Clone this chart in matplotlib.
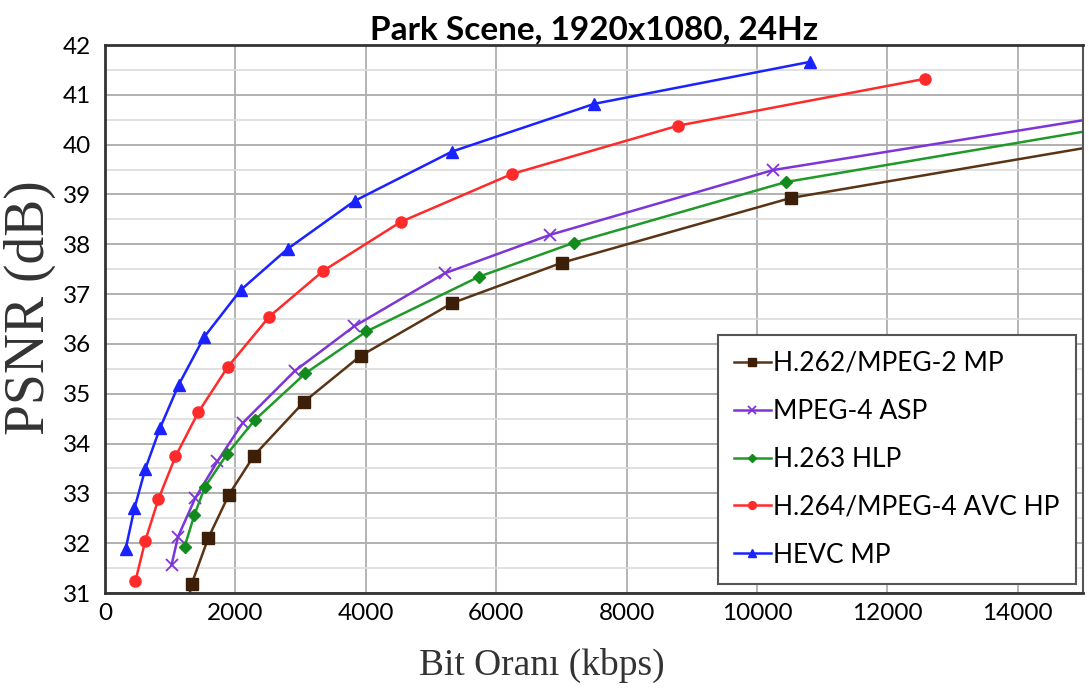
import numpy as np
import matplotlib
matplotlib.use("Agg")
import matplotlib.pyplot as plt
from matplotlib.ticker import MultipleLocator

# values (bit rate in kbps, PSNR in dB)
mpeg2_rate = [1250, 1331, 1583, 1899, 2286, 3055, 3919, 5325, 7009, 10520, 16000]
mpeg2_psnr = [30.7, 31.19, 32.10, 32.97, 33.76, 34.84, 35.76, 36.82, 37.63, 38.93, 40.15]

mpeg4_rate = [1020, 1120, 1382, 1723, 2110, 2913, 3818, 5215, 6828, 10248, 16000]
mpeg4_psnr = [31.56, 32.13, 32.90, 33.64, 34.41, 35.46, 36.35, 37.42, 38.19, 39.49, 40.70]

h263_rate = [1221, 1372, 1533, 1873, 2295, 3074, 4009, 5738, 7190, 10445, 16000]
h263_psnr = [31.93, 32.57, 33.13, 33.79, 34.47, 35.41, 36.25, 37.35, 38.03, 39.25, 40.48]

h264_rate = [467, 618, 818, 1081, 1432, 1884, 2522, 3351, 4537, 6240, 8787, 12570]
h264_psnr = [31.24, 32.05, 32.88, 33.74, 34.63, 35.54, 36.55, 37.47, 38.45, 39.41, 40.38, 41.32]

hevc_rate = [316, 452, 618, 844, 1130, 1522, 2080, 2803, 3828, 5320, 7506, 10806]
hevc_psnr = [31.88, 32.70, 33.49, 34.31, 35.18, 36.14, 37.08, 37.91, 38.87, 39.86, 40.82, 41.66]

labels = ["H.262/MPEG-2 MP", "MPEG-4 ASP", "H.263 HLP",
          "H.264/MPEG-4 AVC HP", "HEVC MP"]

fig = plt.figure(figsize=(10.89, 6.91), dpi=100)
ax = fig.add_axes([105 / 1089, 1 - 593 / 691, 978 / 1089, 548 / 691])

sans = ["Lato", "DejaVu Sans"]
serif = ["Liberation Serif", "DejaVu Serif"]

# draw the five curves
ax.plot(mpeg2_rate, mpeg2_psnr, color="#5a3414", lw=1.8, marker="s", ms=8,
        mfc="#3d1f08", mec="#3d1f08", label=labels[0])
ax.plot(mpeg4_rate, mpeg4_psnr, color="#7d35d8", lw=1.8, marker="x", ms=9,
        mew=1.3, label=labels[1])
ax.plot(h263_rate, h263_psnr, color="#1f9a2a", lw=1.8, marker="D", ms=6.5,
        mfc="#138a1e", mec="#138a1e", label=labels[2])
ax.plot(h264_rate, h264_psnr, color="#ff2a2a", lw=1.8, marker="o", ms=8,
        label=labels[3])
ax.plot(hevc_rate, hevc_psnr, color="#1a22ff", lw=1.8, marker="^", ms=9,
        label=labels[4])

ax.set_xlim(0, 15000)
ax.set_ylim(31, 42)
ax.xaxis.set_major_locator(MultipleLocator(2000))
ax.yaxis.set_major_locator(MultipleLocator(1))
ax.yaxis.set_minor_locator(MultipleLocator(0.5))

ax.grid(axis="x", which="major", color="#a8a8a8", lw=1.2)
ax.grid(axis="y", which="major", color="#b0b0b0", lw=1.4)
ax.grid(axis="y", which="minor", color="#dcdcdc", lw=1.2)
ax.set_axisbelow(True)

ax.tick_params(axis="both", which="both", length=0)
ax.tick_params(axis="y", pad=10)
ax.tick_params(axis="x", pad=7)
for t in ax.get_xticklabels() + ax.get_yticklabels():
    t.set_family(sans)
    t.set_fontsize(17.5)

for side in ["left", "bottom", "top"]:
    ax.spines[side].set_color("#333333")
    ax.spines[side].set_linewidth(2)
ax.spines["right"].set_color("#555555")
ax.spines["right"].set_linewidth(1.5)

ax.set_title("Park Scene, 1920x1080, 24Hz", family=sans, fontsize=24,
             fontweight="bold", pad=4)
ax.set_ylabel("PSNR (dB)", family=serif, fontsize=40, color="#333333")
ax.yaxis.set_label_coords(-0.05, 0.52)
ax.set_xlabel("Bit Oran\u0131 (kbps)", family=serif, fontsize=27, color="#333333")
ax.xaxis.set_label_coords((542 - 105) / 978, -0.1)

leg = ax.legend(loc="upper left", bbox_to_anchor=(718 / 1089, 1 - 335 / 691),
                bbox_transform=fig.transFigure, borderaxespad=0,
                prop={"family": sans, "size": 19}, labelspacing=0.87,
                handlelength=1.4, handletextpad=0.1, markerscale=0.7,
                fancybox=False, framealpha=1, borderpad=0.6)
leg.get_frame().set_edgecolor("#555555")
leg.get_frame().set_linewidth(1.5)

fig.savefig("out.png", dpi=100)
